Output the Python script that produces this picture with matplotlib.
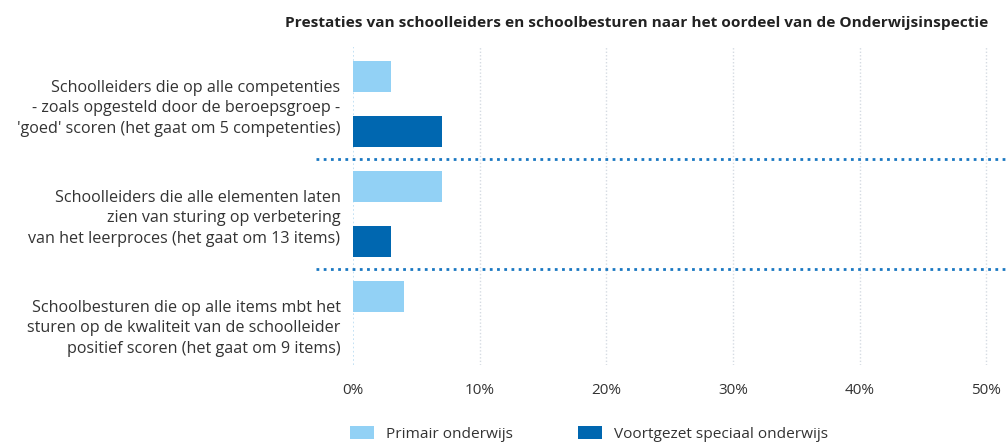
import matplotlib
matplotlib.use('Agg')
import matplotlib.pyplot as plt
from matplotlib.patches import Patch
import numpy as np

plt.rcParams['font.family'] = ['Open Sans', 'DejaVu Sans']

# data
categories = [
    "Schoolleiders die op alle competenties\n- zoals opgesteld door de beroepsgroep -\n'goed' scoren (het gaat om 5 competenties)",
    "Schoolleiders die alle elementen laten\nzien van sturing op verbetering\nvan het leerproces (het gaat om 13 items)",
    "Schoolbesturen die op alle items mbt het\nsturen op de kwaliteit van de schoolleider\npositief scoren (het gaat om 9 items)",
]
series_names = ["Primair onderwijs", "Voortgezet speciaal onderwijs"]
primair = [3, 7, 4]
vso = [7, 3, 0]
xticks = [0, 10, 20, 30, 40, 50]
title = "Prestaties van schoolleiders en schoolbesturen naar het oordeel van de Onderwijsinspectie"

light = '#92d1f5'
dark = '#0067b0'

fig = plt.figure(figsize=(10.08, 4.43), dpi=100)
W, H = 1008, 443
ax = fig.add_axes([353 / W, 1 - 365 / H, 655 / W, (365 - 47) / H])

n = len(categories)
pos_p = np.arange(n) * 2
pos_v = pos_p + 1
ax.barh(pos_p, primair, height=0.56, color=light, zorder=3)
ax.barh(pos_v, vso, height=0.56, color=dark, zorder=3)

ax.set_ylim(5.246, -0.536)
ax.set_xlim(0, 51.7)

# grid
for x in xticks[1:]:
    ax.axvline(x, color='#d5dbe2', lw=1, ls=(0, (1, 1.5)), zorder=1)
ax.axvline(0, color='#b9dcf2', lw=1.2, ls=(0, (1, 1.5)), zorder=1)

# separators between groups
for s in [1.5, 3.5]:
    ax.axhline(s, xmin=-0.0565, xmax=1, color='#1a78c2', lw=2,
               ls=(0, (1, 1.6)), clip_on=False, zorder=4)

for sp in ax.spines.values():
    sp.set_visible(False)

ax.set_xticks(xticks)
ax.set_xticklabels([f"{x}%" for x in xticks], fontsize=11, color='#333333')
ax.tick_params(axis='x', length=0, pad=13)
ax.set_yticks((pos_p + pos_v) / 2)
ax.set_yticklabels(categories, fontsize=11.6, color='#333333', linespacing=1.4)
ax.tick_params(axis='y', length=0, pad=9)

fig.text(988 / W, 1 - 23 / H, title, ha='right', va='center',
         fontsize=11.1, fontweight='bold', color='#222222')

handles = [Patch(facecolor=light, label=series_names[0]),
           Patch(facecolor=dark, label=series_names[1])]
fig.legend(handles=handles, loc='center left', bbox_to_anchor=(336 / W, 1 - 434 / H),
           ncol=2, frameon=False, fontsize=11.1, handlelength=1.55, handleheight=0.9,
           columnspacing=4.2, handletextpad=0.8, labelcolor='#333333')

fig.savefig('out.png', dpi=100)
